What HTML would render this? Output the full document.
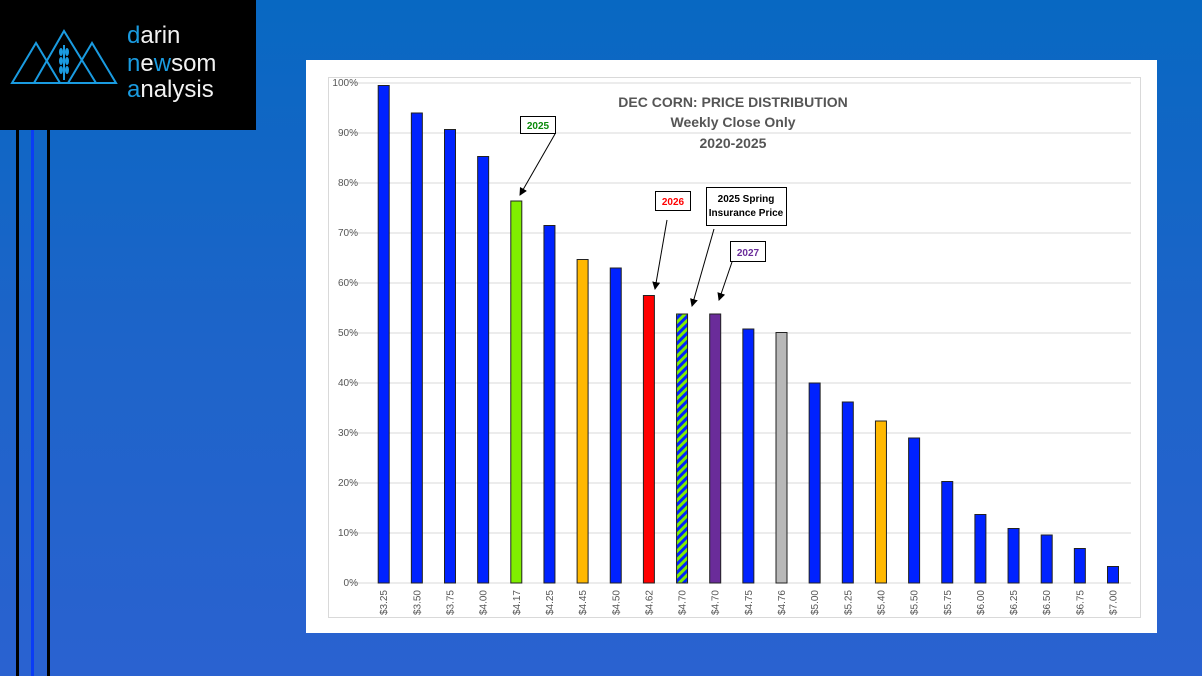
<!DOCTYPE html>
<html><head><meta charset="utf-8"><style>
body{margin:0;width:1202px;height:676px;overflow:hidden;background:linear-gradient(180deg,#0868c2 0%,#1d64c9 50%,#2a62d0 100%);font-family:"Liberation Sans",sans-serif;position:relative}
.s{position:absolute;top:0;height:676px}
</style></head><body>
<div class="s" style="left:16px;width:3px;background:#000"></div>
<div class="s" style="left:31px;width:3px;background:#0a3cf5"></div>
<div class="s" style="left:47px;width:3px;background:#000"></div>
<div style="position:absolute;left:0;top:0;width:256px;height:130px;background:#000"></div>
<svg style="position:absolute;left:0;top:0" width="256" height="130">
<g fill="none" stroke="#1a9be0" stroke-width="2">
<polygon points="12,83 36,43 60,83"/><polygon points="34,83 64,31 96,83"/><polygon points="68,83 92,43 116,83"/>
<line x1="64" y1="45" x2="64" y2="80"/>
</g>
<g fill="#1a9be0"><ellipse cx="61" cy="52" rx="2" ry="4"/><ellipse cx="67" cy="52" rx="2" ry="4"/><ellipse cx="61" cy="61" rx="2" ry="4"/><ellipse cx="67" cy="61" rx="2" ry="4"/><ellipse cx="61" cy="70" rx="2" ry="4"/><ellipse cx="67" cy="70" rx="2" ry="4"/></g>
<g font-size="24" fill="#f2f2f2" style="font-weight:300">
<text x="127" y="43"><tspan fill="#1a9be0">d</tspan>arin</text>
<text x="127" y="71"><tspan fill="#1a9be0">n</tspan>e<tspan fill="#1a9be0">w</tspan>som</text>
<text x="127" y="97"><tspan fill="#1a9be0">a</tspan>nalysis</text></g>
</svg>
<svg style="position:absolute;left:0;top:0" width="1202" height="676" font-family="Liberation Sans, sans-serif">
<defs><pattern id="h" width="6" height="6" patternUnits="userSpaceOnUse" patternTransform="rotate(45)"><rect width="6" height="6" fill="#80ee00"/><rect width="3" height="6" fill="#0022ff"/></pattern>
<marker id="a" markerWidth="8" markerHeight="8" refX="7" refY="4" orient="auto"><path d="M0,0 L8,4 L0,8z" fill="#000"/></marker></defs>
<rect x="306" y="60" width="851" height="573" fill="#fff"/>
<rect x="328.5" y="77.5" width="812" height="540" fill="none" stroke="#d9d9d9"/>
<g id="bars"></g>
<g font-weight="bold" fill="#555" text-anchor="middle" font-size="14">
<text x="733" y="107">DEC CORN: PRICE DISTRIBUTION</text>
<text x="733" y="127">Weekly Close Only</text>
<text x="733" y="148">2020-2025</text></g>
<g font-weight="bold" font-size="10" text-anchor="middle" stroke-width="1">
<rect x="520.5" y="116.5" width="35" height="17" fill="#fff" stroke="#000"/><text x="538" y="129" fill="#0a8a0a">2025</text>
<rect x="655.5" y="191.5" width="35" height="19" fill="#fff" stroke="#000"/><text x="673" y="205" fill="#f00">2026</text>
<rect x="706.5" y="187.5" width="80" height="38" fill="#fff" stroke="#000"/><text x="746" y="202" fill="#000">2025 Spring</text><text x="746" y="216" fill="#000">Insurance Price</text>
<rect x="730.5" y="241.5" width="35" height="20" fill="#fff" stroke="#000"/><text x="748" y="256" fill="#6a2c9a">2027</text>
<g stroke="#000" marker-end="url(#a)"><line x1="555" y1="134" x2="520" y2="195"/><line x1="667" y1="220" x2="655" y2="289"/><line x1="714" y1="229" x2="692" y2="306"/><line x1="732" y1="262" x2="719" y2="300"/></g>
</g>
</svg>
<script>
const v=[99.5,94,90.7,85.3,76.4,71.5,64.7,63,57.5,53.8,53.8,50.8,50.1,40,36.2,32.4,29,20.3,13.7,10.9,9.6,6.9,3.3];
const l=["$3.25","$3.50","$3.75","$4.00","$4.17","$4.25","$4.45","$4.50","$4.62","$4.70","$4.70","$4.75","$4.76","$5.00","$5.25","$5.40","$5.50","$5.75","$6.00","$6.25","$6.50","$6.75","$7.00"];
const c={4:"#80ee00",6:"#ffb800",8:"#ff0000",9:"url(#h)",10:"#6a2c9a",12:"#b8b8b8",15:"#ffb800"};
let s='';
for(let i=0;i<=10;i++){const y=583-i*50;s+=`<line x1="350" x2="1131" y1="${y}" y2="${y}" stroke="#d9d9d9"/><text x="358" y="${y+3}" font-size="10" fill="#555" text-anchor="end">${i*10}%</text>`;}
v.forEach((x,i)=>{const cx=383.7+33.15*i,h=x*5;s+=`<rect x="${cx-5.5}" y="${583-h}" width="11" height="${h}" fill="${c[i]||'#0022ff'}" stroke="#222" stroke-width="1"/><text transform="translate(${cx+3.5},590) rotate(-90)" font-size="10" fill="#555" text-anchor="end">${l[i]}</text>`;});
document.getElementById('bars').innerHTML=s;
</script>
</body></html>
